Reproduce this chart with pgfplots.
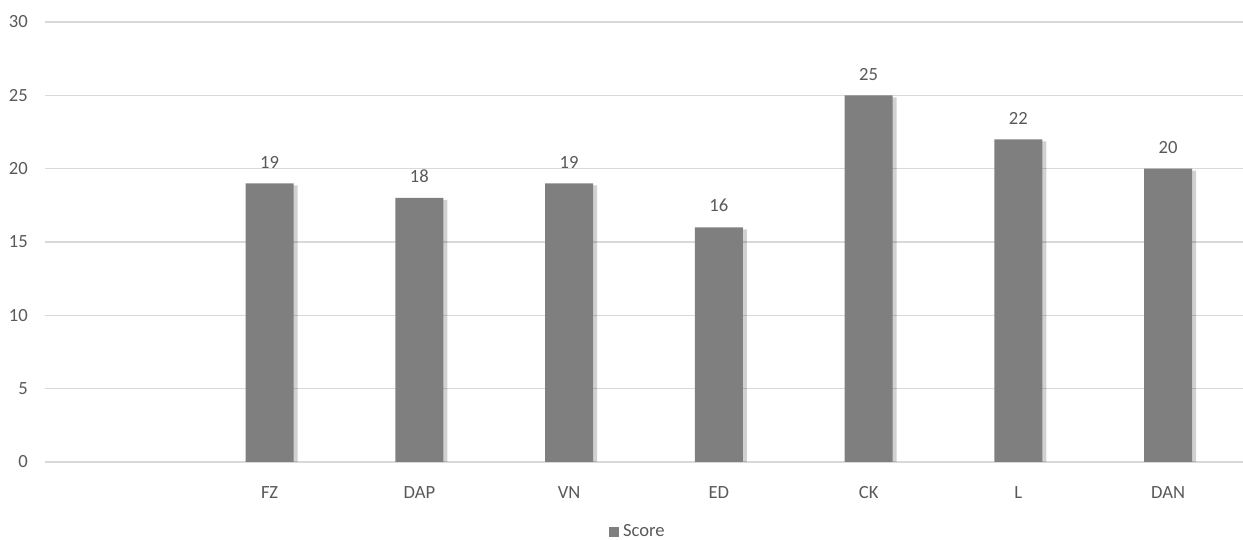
\documentclass[border=0pt]{standalone}
\usepackage{pgfplots}
\pgfplotsset{compat=1.18}
\usepackage{fontspec}
\setmainfont{Carlito}
\usetikzlibrary{shadows}
\definecolor{barfill}{HTML}{7F7F7F}
\definecolor{txt}{HTML}{595959}
\definecolor{gridc}{HTML}{D9D9D9}
\begin{document}
\fontsize{18.6}{22}\selectfont
\begin{tikzpicture}
	\useasboundingbox (-45pt,-78pt) rectangle (1198pt,462pt);
	\begin{axis}[
			scale only axis,
			width=1198pt, height=440pt,
			ybar, bar width=48pt,
			xmin=-0.5, xmax=7.5,
			ymin=0, ymax=30,
			xtick={1,...,7},
			xticklabels={FZ,DAP,VN,ED,CK,L,DAN},
			ytick={0,5,...,30},
			ymajorgrids,
			major grid style={draw=gridc, line width=1.4pt},
			axis line style={draw=none},
			tick style={draw=none},
			ticklabel style={font=\fontsize{18.6}{22}\selectfont, text=txt, inner sep=0pt},
			yticklabel style={anchor=east, xshift=-17pt},
			xticklabel style={anchor=north, yshift=-20pt},
			/pgf/number format/assume math mode=true,
			nodes near coords,
			every node near coord/.append style={font=\fontsize{18.6}{22}\selectfont, text=txt, inner sep=0pt, anchor=south, yshift=15pt},
			legend style={at={(0.494,-0.158)}, anchor=center, draw=none, fill=none,
				font=\fontsize{18.6}{22}\selectfont, text=txt, inner sep=0pt,
				nodes={inner sep=0pt},
				/tikz/every odd column/.append style={column sep=4pt}},
			legend image code/.code={\fill[barfill] (0pt,-5pt) rectangle (10pt,5pt);},
		]
		\addplot[forget plot, bar shift=0pt, fill=barfill, draw=none,
			drop shadow={shadow xshift=4pt, shadow yshift=-2pt, fill=black, opacity=0.18}]
		coordinates {
				(1,19)(2,18)(3,19)(4,16)(5,25)(6,22)(7,20)
			};
		\addlegendimage{fill=barfill, draw=none}
		\legend{Score}
	\end{axis}
\end{tikzpicture}
\end{document}
